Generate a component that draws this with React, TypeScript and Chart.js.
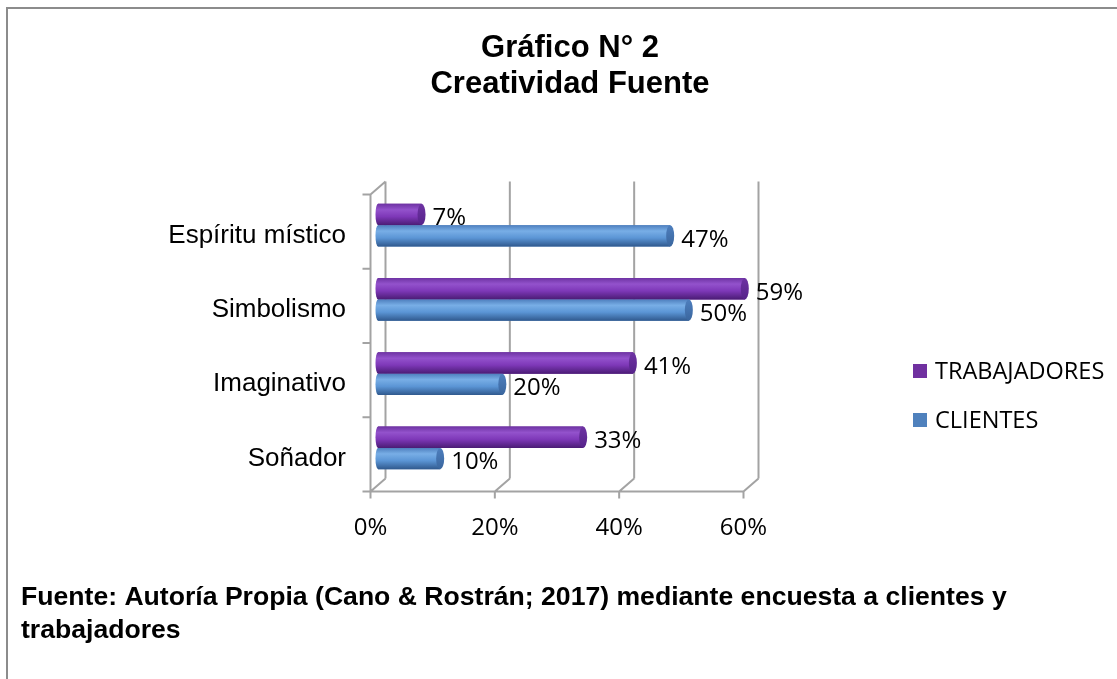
import React, { useEffect, useRef } from "react";
import { Chart, registerables } from "chart.js";

Chart.register(...registerables);

const categories = ["Espíritu místico", "Simbolismo", "Imaginativo", "Soñador"];
const seriesNames = ["TRABAJADORES", "CLIENTES"];
const trabajadores = [7, 59, 41, 33];
const clientes = [47, 50, 20, 10];
const xTickValues = [0, 20, 40, 60];
const titleLines = ["Gráfico N° 2", "Creatividad Fuente"];
const footerLines = [
  "Fuente: Autoría Propia (Cano & Rostrán; 2017) mediante encuesta a clientes y",
  "trabajadores",
];

const legendColors = ["#7030A0", "#4F81BD"];
const shades = [
  { top: "#6E33A3", hi: "#9352CC", mid: "#7E38B8", bot: "#4B1C75", cap: "#56238A", capHi: "#6E33A3" },
  { top: "#4E7FBE", hi: "#78AEE6", mid: "#5B95D5", bot: "#30598E", cap: "#3A669E", capHi: "#4E7FBE" },
];

const DX = 15;
const DY = 13;
const GRID = "#A3A3A3";
const ARIAL = '"Liberation Sans", Arial, sans-serif';
const CALIBRI = '"Open Sans", sans-serif';

const decorPlugin = {
  id: "decor",
  beforeDraw(chart: any) {
    const { ctx, width, height } = chart;
    ctx.save();
    ctx.fillStyle = "#ffffff";
    ctx.fillRect(0, 0, width, height);
    ctx.strokeStyle = "#8C8C8C";
    ctx.lineWidth = 2;
    ctx.strokeRect(7, 8, width + 20, height + 20);

    ctx.fillStyle = "#000";
    ctx.textAlign = "center";
    ctx.textBaseline = "middle";
    ctx.font = `bold 31px ${ARIAL}`;
    titleLines.forEach((t, i) => ctx.fillText(t, 570, 48 + i * 36));

    ctx.textAlign = "left";
    ctx.font = `bold 26.6px ${ARIAL}`;
    footerLines.forEach((t, i) => ctx.fillText(t, 21, 598 + i * 33));

    ctx.font = `23.5px ${CALIBRI}`;
    seriesNames.forEach((name, i) => {
      const cy = 371 + i * 49;
      ctx.fillStyle = legendColors[i];
      ctx.fillRect(913, cy - 7, 14, 14);
      ctx.fillStyle = "#000";
      ctx.fillText(name, 935, cy + 1);
    });
    ctx.restore();
  },
  beforeDatasetsDraw(chart: any) {
    const { ctx, chartArea } = chart;
    const xs = chart.scales.x;
    const { left, right, top, bottom } = chartArea;
    const hx = DX / 2;
    const hy = DY / 2;
    ctx.save();
    ctx.strokeStyle = GRID;
    ctx.lineWidth = 2;
    ctx.lineCap = "butt";
    ctx.beginPath();
    xTickValues.forEach((v) => {
      const px = xs.getPixelForValue(v);
      ctx.moveTo(px + hx, top - hy);
      ctx.lineTo(px + hx, bottom - hy);
      ctx.moveTo(px - hx, bottom + hy);
      ctx.lineTo(px + hx, bottom - hy);
      ctx.moveTo(px - hx, bottom + hy);
      ctx.lineTo(px - hx, bottom + hy + 7);
    });
    ctx.moveTo(left - hx - 8, bottom + hy);
    ctx.lineTo(right - hx, bottom + hy);
    ctx.moveTo(left - hx, top + hy);
    ctx.lineTo(left - hx, bottom + hy);
    ctx.moveTo(left - hx, top + hy);
    ctx.lineTo(left + hx, top - hy);
    const n = categories.length;
    for (let i = 0; i <= n; i++) {
      const py = top + ((bottom - top) * i) / n + hy;
      ctx.moveTo(left - hx - 8, py);
      ctx.lineTo(left - hx, py);
    }
    ctx.stroke();
    ctx.restore();
  },
  afterDatasetsDraw(chart: any) {
    const { ctx } = chart;
    ctx.save();
    chart.data.datasets.forEach((ds: any, i: number) => {
      const meta = chart.getDatasetMeta(i);
      const s = shades[i];
      meta.data.forEach((el: any, j: number) => {
        const { x, y, base, height } = el.getProps(["x", "y", "base", "height"], true);
        const t = y - height / 2;
        const b = y + height / 2;
        const rx = 4;
        const g = ctx.createLinearGradient(0, t, 0, b);
        g.addColorStop(0, s.top);
        g.addColorStop(0.28, s.hi);
        g.addColorStop(0.6, s.mid);
        g.addColorStop(1, s.bot);
        ctx.fillStyle = g;
        ctx.beginPath();
        ctx.moveTo(base, b);
        ctx.ellipse(base, y, 2.5, height / 2, 0, Math.PI / 2, (3 * Math.PI) / 2);
        ctx.lineTo(x, t);
        ctx.lineTo(x, b);
        ctx.closePath();
        ctx.fill();
        const cg = ctx.createLinearGradient(0, t, 0, b);
        cg.addColorStop(0, s.capHi);
        cg.addColorStop(1, s.cap);
        ctx.fillStyle = cg;
        ctx.beginPath();
        ctx.ellipse(x, y, rx, height / 2, 0, 0, Math.PI * 2);
        ctx.fill();

        ctx.fillStyle = "#000";
        ctx.font = `24px ${CALIBRI}`;
        ctx.textAlign = "left";
        ctx.textBaseline = "middle";
        ctx.fillText(`${ds.data[j]}%`, x + 11, y + 4);
      });
    });
    ctx.restore();
  },
};

export default function App() {
  const ref = useRef<HTMLCanvasElement>(null);
  useEffect(() => {
    if (!ref.current) return;
    const chart = new Chart(ref.current, {
      type: "bar",
      data: {
        labels: categories,
        datasets: [
          { label: seriesNames[0], data: trabajadores, backgroundColor: legendColors[0] },
          { label: seriesNames[1], data: clientes, backgroundColor: legendColors[1] },
        ],
      },
      options: {
        indexAxis: "y",
        responsive: false,
        animation: false,
        devicePixelRatio: 1,
        layout: { padding: { top: 188, right: 366, bottom: 134, left: 0 } },
        datasets: { bar: { categoryPercentage: 0.575, barPercentage: 1 } },
        plugins: {
          legend: { display: false },
          title: { display: false },
          tooltip: { enabled: false },
        },
        scales: {
          x: {
            min: 0,
            max: 60,
            grid: { display: false, drawTicks: false },
            border: { display: false },
            afterFit: (s: any) => {
              s.height = 60;
            },
            afterBuildTicks: (s: any) => {
              s.ticks = xTickValues.map((v) => ({ value: v }));
            },
            ticks: {
              padding: 29,
              labelOffset: -7.5,
              color: "#000",
              font: { family: CALIBRI, size: 24 },
              callback: (v: any) => `${v}%`,
            },
          },
          y: {
            grid: { display: false, drawTicks: false },
            border: { display: false },
            afterFit: (s: any) => {
              s.width = 378;
            },
            ticks: {
              padding: 32,
              labelOffset: 10.5,
              color: "#000",
              font: { family: ARIAL, size: 26 },
            },
          },
        },
      },
      plugins: [decorPlugin],
    });
    return () => chart.destroy();
  }, []);
  return (
    <div style={{ position: "absolute", left: 0, top: 0, width: 1117, height: 679 }}>
      <canvas ref={ref} width={1117} height={679} style={{ display: "block" }} />
    </div>
  );
}
